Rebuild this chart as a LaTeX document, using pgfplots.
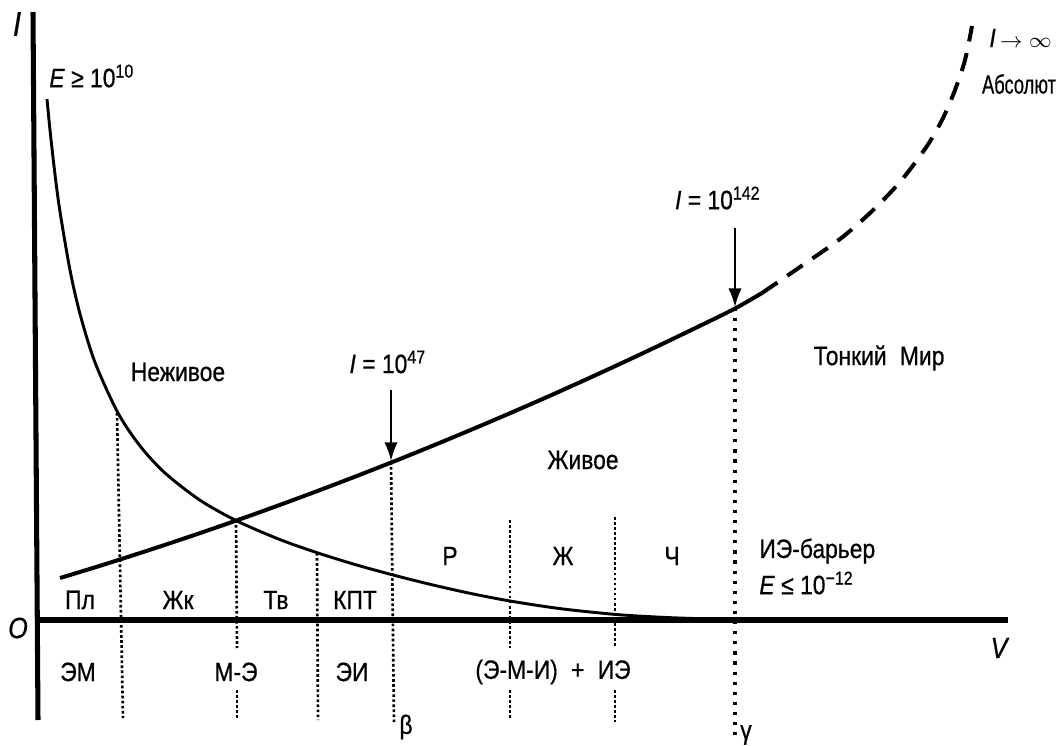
\documentclass[border=0pt]{standalone}
\usepackage{pgfplots}
\pgfplotsset{compat=1.18}
\usetikzlibrary{arrows.meta}
\usepackage{graphicx}
\usepackage{fontspec}
\setmainfont[FakeStretch=0.86,FakeBold=0.6]{Liberation Sans}
\begin{document}
\begin{tikzpicture}
\fontsize{10}{12}\selectfont
\begin{axis}[
  scale only axis, width=400pt, height=280.71pt,
  xmin=0, xmax=1063, ymin=0, ymax=746, y dir=reverse,
  hide axis, clip=false,
]
% axes
\addplot[line width=1.9pt, black] coordinates {(33,12) (38,720)};
\addplot[line width=2.6pt, black] coordinates {(36,620) (1008,620)};
% decreasing curve
\addplot[line width=1.1pt, black, smooth] coordinates {
(47,99) (50,130) (55,174.5) (60,211.7) (70,270.1) (80,313.9) (95,362.4)
(118,412.9) (140,445.9) (165,473.0) (200,500.2) (237,521.0) (280,539.6)
(318,553.0) (355,564.5) (392,574.7) (430,584.3) (470,593.3) (510,601.0)
(560,608.6) (615,614.4) (660,617.2) (700,618.7) (740,619.5) (780,620)};
% rising curve, solid
\addplot[line width=1.5pt, black, smooth] coordinates {
(60,578) (100,565.8) (150,549.8) (200,533.1) (250,515.7) (300,497.5)
(350,478.6) (400,459) (450,438.6) (500,417.5) (550,395.7) (600,373.1)
(650,349.8) (700,325.8) (735,308.5) (762,293)};
% rising curve, dashed
\addplot[line width=1.5pt, black, smooth, dash pattern=on 7pt off 4.5pt] coordinates {
(762,293) (800,267) (840,239) (870,213) (900,182) (927,146) (943,118)
(955,90) (965,60) (972,26)};
% dotted verticals
\addplot[line width=1pt, dash pattern=on 1pt off 0.9pt] coordinates {(117,413) (123,718)};
\addplot[line width=1pt, dash pattern=on 1pt off 0.9pt] coordinates {(236,520) (237,648)};
\addplot[line width=1pt, dash pattern=on 1pt off 0.9pt] coordinates {(237,690) (237,720)};
\addplot[line width=1pt, dash pattern=on 1pt off 0.9pt] coordinates {(317,553) (318,720)};
\addplot[line width=1pt, dash pattern=on 1pt off 0.9pt] coordinates {(391,462) (394,724)};
\addplot[line width=1pt, dash pattern=on 1pt off 0.9pt] coordinates {(510,520) (510,648)};
\addplot[line width=1pt, dash pattern=on 1pt off 0.9pt] coordinates {(510,690) (510,720)};
\addplot[line width=1pt, dash pattern=on 1pt off 0.9pt] coordinates {(615,517) (615,648)};
\addplot[line width=1pt, dash pattern=on 1pt off 0.9pt] coordinates {(615,690) (615,722)};
\addplot[line width=1.2pt, dash pattern=on 1.2pt off 2.6pt] coordinates {(735,308) (735,735)};
% arrows
\addplot[line width=0.8pt, -{Latex[length=7pt,width=5pt]}] coordinates {(391,390) (391,461)};
\addplot[line width=0.8pt, -{Latex[length=7pt,width=5pt]}] coordinates {(735,228) (735,307)};
% labels
\node at (axis cs:17,24) {\fontsize{13}{14}\selectfont\textit{I}};
\node at (axis cs:18,628) {\fontsize{11}{12}\selectfont\textit{O}};
\node at (axis cs:1000,648) {\fontsize{11}{12}\selectfont\textit{V}};
\node[anchor=west] at (axis cs:40,76) {\textit{E} ≥ 10\textsuperscript{10}};
\node[anchor=west] at (axis cs:980,38) {\textit{I}\,{\fontsize{8}{9}\selectfont$\to\infty$}};
\node at (axis cs:1019,84) {\scalebox{0.8}[1]{Абсолют}};
\node at (axis cs:388,362) {\textit{I} = 10\textsuperscript{47}};
\node at (axis cs:718,198) {\textit{I} = 10\textsuperscript{142}};
\node at (axis cs:178,372) {Неживое};
\node at (axis cs:879,358) {Тонкий\enspace Мир};
\node at (axis cs:583,460) {Живое};
\node at (axis cs:450,556) {Р};
\node at (axis cs:563,556) {Ж};
\node at (axis cs:672,556) {Ч};
\node[anchor=west] at (axis cs:750,551) {ИЭ-барьер};
\node[anchor=west] at (axis cs:750,583) {\textit{E} ≤ 10\textsuperscript{−12}};
\node at (axis cs:80,600) {Пл};
\node at (axis cs:178,600) {Жк};
\node at (axis cs:276,600) {Тв};
\node at (axis cs:355,600) {КПТ};
\node at (axis cs:78,672) {ЭМ};
\node at (axis cs:236,672) {М-Э};
\node at (axis cs:352,672) {ЭИ};
\node at (axis cs:553,672) {(Э-М-И)\enspace+\enspace ИЭ};
\node at (axis cs:406,727) {β};
\node at (axis cs:746,735) {γ};
\end{axis}
\pgfresetboundingbox
\useasboundingbox (current axis.south west) rectangle (current axis.north east);
\end{tikzpicture}
\end{document}
